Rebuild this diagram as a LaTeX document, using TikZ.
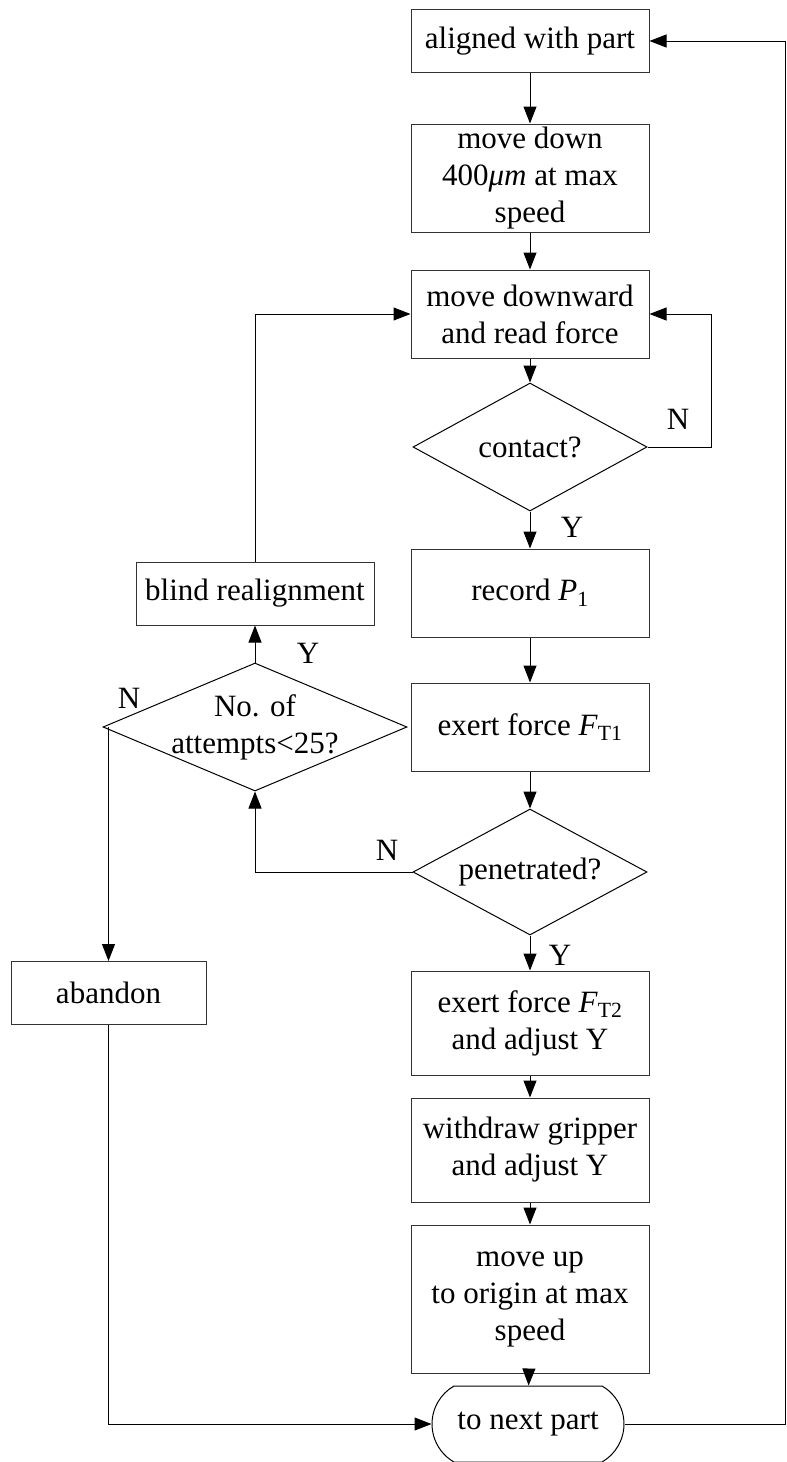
\documentclass[tikz,border=0pt]{standalone}
\usepackage{fontspec}
\setmainfont{Liberation Serif}
\usetikzlibrary{arrows.meta, shapes.geometric, shapes.misc, calc}
\definecolor{boxline}{HTML}{333333}

\begin{document}
\begin{tikzpicture}[x=1pt, y=-1pt, >={Triangle[length=17pt, width=13pt]}, line width=1pt,
  every node/.style={font=\fontsize{31pt}{37pt}\selectfont, align=center},
  procbox/.style={draw=boxline, rectangle, minimum width=238pt, inner sep=0pt},
  decide/.style={draw, diamond, aspect=1.85, inner sep=0pt},
  yesno/.style={inner sep=0pt}]

% Page
\useasboundingbox (0,0) rectangle (787,1462);

% Main column (x = 530)
\node[procbox, minimum height=63pt] (align) at (530,41) {aligned with part};
\node[procbox, minimum height=108pt] (down400) at (530,178)
  {move down\\400\textit{μm} at max\\speed};
\node[procbox, minimum height=88pt] (downread) at (530,314)
  {move downward\\and read force};
\node[decide, minimum width=234pt, minimum height=128pt] (contact) at (530,447) {contact?};
\node[procbox, minimum height=88pt] (record) at (530,593) {record \textit{P}\textsubscript{1}};
\node[procbox, minimum height=88pt] (exert1) at (530,727)
  {exert force \textit{F}\textsubscript{T1}};
\node[decide, minimum width=234pt, minimum height=126pt] (pen) at (530,872) {penetrated?};
\node[procbox, minimum height=104pt] (exert2) at (530,1023)
  {exert force \textit{F}\textsubscript{T2}\\and adjust Y};
\node[procbox, minimum height=104pt] (withdraw) at (530,1150)
  {withdraw gripper\\and adjust Y};
\node[procbox, minimum height=148pt] (moveup) at (530,1299)
  {move up\\to origin at max\\speed};
\node[draw, rounded rectangle, rounded rectangle arc length=120,
  minimum width=192pt, minimum height=76pt, inner sep=0pt] (next) at (528,1424) {to next part};

% Retry column (x = 255)
\node[procbox, minimum height=63pt] (blind) at (255,593.5) {blind realignment};
\node[decide, aspect=2.4, minimum width=304pt, minimum height=128pt,
  inner xsep=-11pt, inner ysep=-1pt] (attempts) at (255,727)
  {No. of\\attempts<25?};
\node[procbox, minimum width=195pt, minimum height=63pt] (abandon) at (108.5,993) {abandon};

% Bends of the loops
\coordinate (loopR) at (711,314);
\coordinate (retB) at (785,1424);
\coordinate (retT) at (785,41);

% Flow
\draw[->] (align) -- (down400);
\draw[->] (down400) -- (downread);
\draw[->] (downread) -- (contact);
\draw[->] (contact.east) -| (loopR) -- (downread.east);
\draw[->] (contact) -- (record);
\draw[->] (record) -- (exert1);
\draw[->] (exert1) -- (pen);
\draw[->] (pen.west) -| (attempts.south);
\draw[->] (attempts.north) -- (blind.south);
\draw[->] (blind.north) |- (downread.west);
\draw[->] (abandon.north |- attempts.west) -- (abandon.north);
\draw[->] (pen) -- (exert2);
\draw[->] (exert2) -- (withdraw);
\draw[->] (withdraw) -- (moveup);
\draw[->] (moveup) -- (next);
\draw[->] (abandon.south) |- (next.west);
\draw[->] (next.east) -- (retB) -- (retT) -- (align.east);

% Y / N labels
\node[yesno] (nContact) at (678,419) {N};
\node[yesno] (yContact) at (572,527) {Y};
\node[yesno] (yAttempts) at (308,653) {Y};
\node[yesno] (nAttempts) at (129,698) {N};
\node[yesno] (nPen) at (387,850) {N};
\node[yesno] (yPen) at (560,955) {Y};

\end{tikzpicture}
\end{document}
